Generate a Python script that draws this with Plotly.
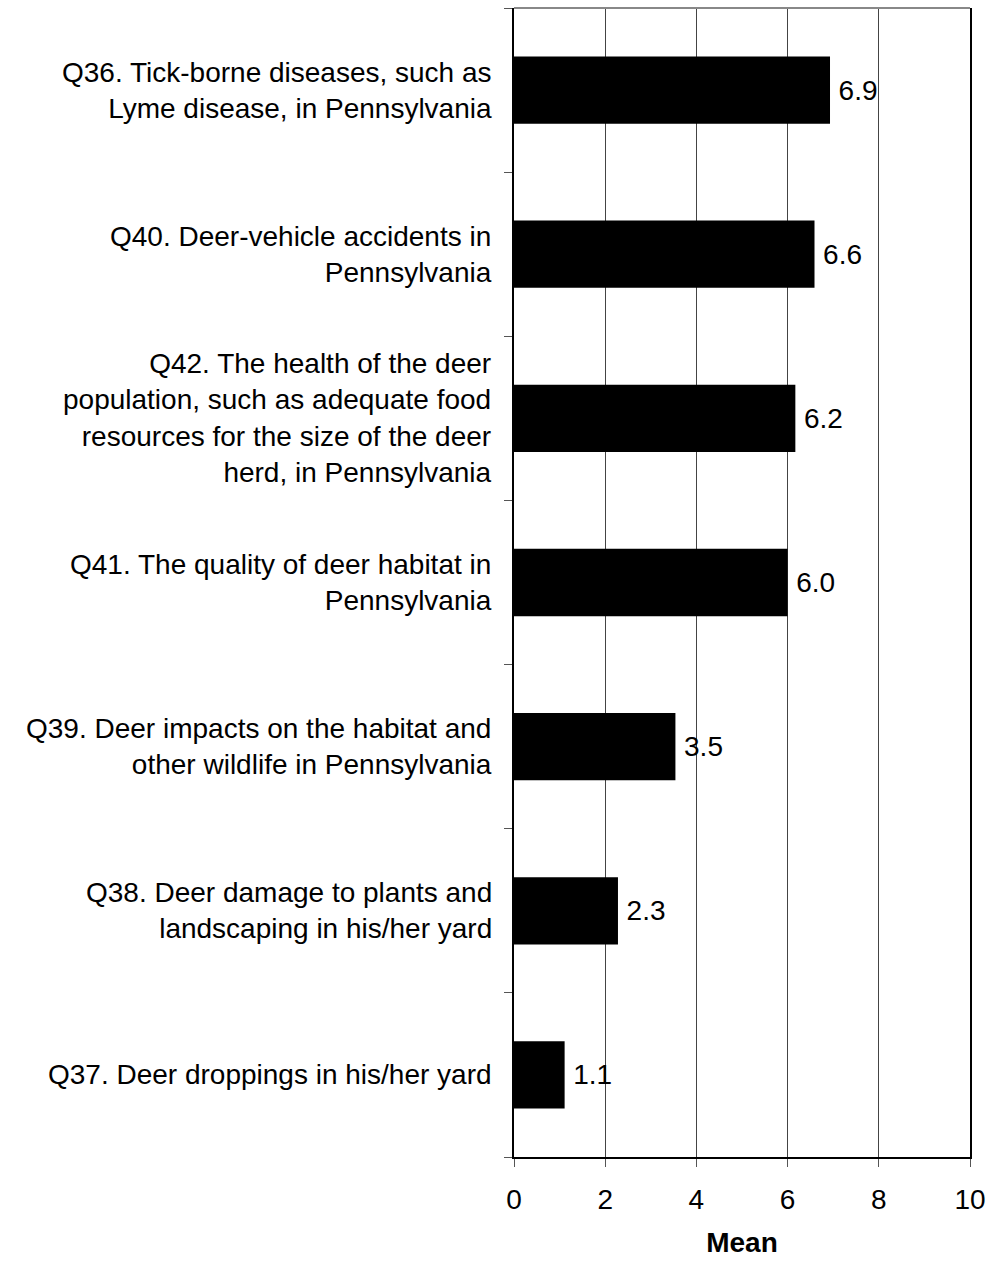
import plotly.graph_objects as go

categories = [
    "Q36. Tick-borne diseases, such as<br>Lyme disease, in Pennsylvania",
    "Q40. Deer-vehicle accidents in<br>Pennsylvania",
    "Q42. The health of the deer<br>population, such as adequate food<br>resources for the size of the deer<br>herd, in Pennsylvania",
    "Q41. The quality of deer habitat in<br>Pennsylvania",
    "Q39. Deer impacts on the habitat and<br>other wildlife in Pennsylvania",
    "Q38. Deer damage to plants and<br>landscaping in his/her yard",
    "Q37. Deer droppings in his/her yard",
]
values = [6.93, 6.59, 6.17, 6.0, 3.54, 2.28, 1.11]
value_labels = ["6.9", "6.6", "6.2", "6.0", "3.5", "2.3", "1.1"]
x_ticks = [0, 2, 4, 6, 8, 10]

FONT = "Liberation Sans, Arial, sans-serif"
FS = 28
n = len(categories)
ypos = list(range(n))  # 0 at top via reversed axis

fig = go.Figure()
fig.add_trace(go.Bar(
    x=values, y=ypos, orientation="h",
    marker=dict(color="black", line=dict(width=0)),
    width=0.41,
    text=value_labels, texttemplate="\u2009%{text}", textposition="outside",
    textfont=dict(size=FS, color="black", family=FONT),
    cliponaxis=False, hoverinfo="skip",
))

annotations = []
for i, c in enumerate(categories):
    annotations.append(dict(
        x=0, xref="paper", y=i, yref="y", text=c, showarrow=False,
        xanchor="right", yanchor="middle", align="right", xshift=-20,
        font=dict(size=FS, color="black", family=FONT),
    ))

fig.update_layout(
    width=994, height=1262,
    margin=dict(l=514, r=20, t=8, b=105),
    paper_bgcolor="white", plot_bgcolor="white",
    showlegend=False,
    annotations=annotations,
    font=dict(family=FONT, color="black"),
    uniformtext=dict(minsize=FS, mode="show"),
    xaxis=dict(
        range=[0, 10], tickmode="array", tickvals=x_ticks,
        ticks="outside", ticklen=8, tickcolor="#555", tickwidth=1,
        showgrid=True, gridcolor="#444", gridwidth=1,
        showline=True, linecolor="black", linewidth=2,
        zeroline=False, ticklabelstandoff=8,
        tickfont=dict(size=FS, family=FONT),
        title=dict(text="<b>Mean</b>", font=dict(size=FS, family=FONT), standoff=19),
    ),
    yaxis=dict(
        range=[n - 0.5, -0.5],
        tickmode="array", tickvals=[i - 0.5 for i in range(n + 1)],
        ticktext=[""] * (n + 1),
        ticks="outside", ticklen=8, tickcolor="#555", tickwidth=1,
        showgrid=False, zeroline=False,
        showline=True, linecolor="black", linewidth=2, mirror=True,
    ),
    shapes=[dict(type="line", xref="paper", yref="paper", x0=0, x1=1, y0=1, y1=1,
                 line=dict(color="#888", width=2))],
)

post = (
    "document.body.style.margin='0';"
    "document.body.style.overflow='hidden';"
    "document.documentElement.style.overflow='hidden';"
)
fig.write_html("out.html", config={"displayModeBar": False}, post_script=post)
